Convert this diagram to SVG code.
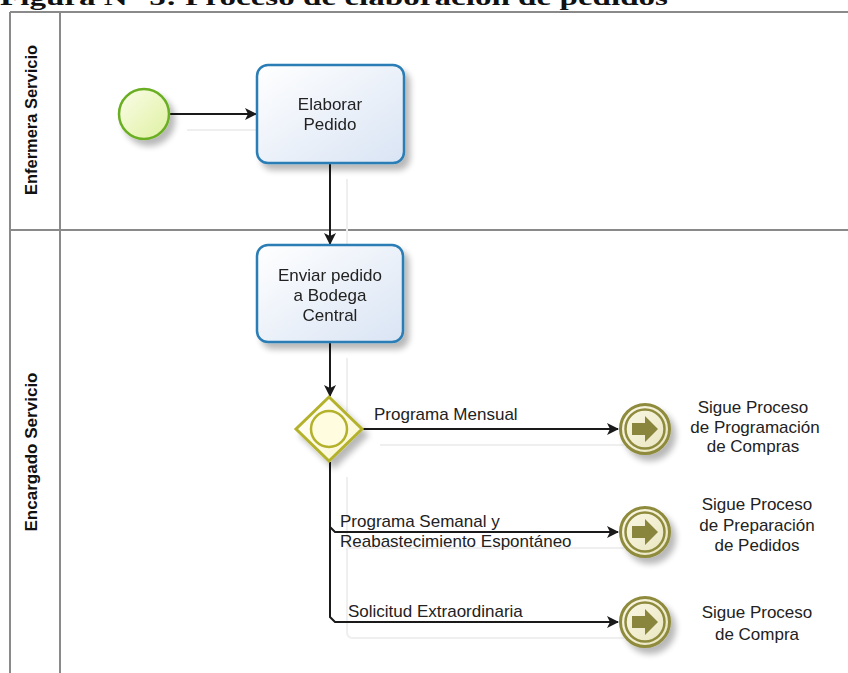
<svg xmlns="http://www.w3.org/2000/svg" width="848" height="673" viewBox="0 0 848 673">
  <defs>
    <style>
      .lane { stroke: #8a8a8a; stroke-width: 2; fill: none; }
      .lane-label { font-family: "Liberation Sans", Arial, sans-serif; font-size: 17px; font-weight: bold; fill: #111; }
      .lbl { font-family: "Liberation Sans", Arial, sans-serif; font-size: 17px; fill: #222; }
      .task { fill: url(#taskFill); stroke: #2a7db5; stroke-width: 2.5; }
      .flow { fill: none; stroke: #1a1a1a; stroke-width: 2; }
      .ghost { fill: none; stroke: #efefef; stroke-width: 2; }
      .end-ring { fill: url(#endFill); stroke: #8f8b3e; stroke-width: 3; }
      .end-inner { fill: none; stroke: #8f8b3e; stroke-width: 2.5; }
      .end-icon { fill: #8a853c; }
    </style>
    <linearGradient id="taskFill" x1="0" y1="0" x2="1" y2="1">
      <stop offset="0" stop-color="#ffffff"/>
      <stop offset="1" stop-color="#d9e4f4"/>
    </linearGradient>
    <linearGradient id="startFill" x1="0" y1="0" x2="1" y2="1">
      <stop offset="0" stop-color="#fbfde9"/>
      <stop offset="1" stop-color="#def0a0"/>
    </linearGradient>
    <linearGradient id="gwFill" x1="0" y1="0" x2="1" y2="1">
      <stop offset="0" stop-color="#ffffff"/>
      <stop offset="1" stop-color="#fbf7cc"/>
    </linearGradient>
    <linearGradient id="endFill" x1="0" y1="0" x2="1" y2="1">
      <stop offset="0" stop-color="#fbf9e8"/>
      <stop offset="1" stop-color="#e8e4bd"/>
    </linearGradient>
    <filter id="shadow" x="-30%" y="-30%" width="170%" height="170%">
      <feGaussianBlur in="SourceAlpha" stdDeviation="3"/>
      <feOffset dx="5" dy="6" result="off"/>
      <feComponentTransfer><feFuncA type="linear" slope="0.28"/></feComponentTransfer>
      <feMerge><feMergeNode/><feMergeNode in="SourceGraphic"/></feMerge>
    </filter>
    <marker id="arrow" viewBox="0 0 12 12" refX="11" refY="6" markerWidth="12" markerHeight="12" markerUnits="userSpaceOnUse" orient="auto">
      <path d="M0,0 L12,6 L0,12 L3,6 Z" fill="#1a1a1a"/>
    </marker>
  </defs>

  <rect width="848" height="673" fill="#ffffff"/>

  <!-- figure caption, partly above the top edge -->
  <text x="0" y="5" font-family="'Liberation Serif', 'Times New Roman', serif" font-size="24" font-weight="bold" fill="#111" textLength="668" lengthAdjust="spacingAndGlyphs">Figura N° 5: Proceso de elaboración de pedidos</text>

  <!-- pool and lanes -->
  <g id="pool">
    <path class="lane" d="M10,12 H848 M10,12 V673 M60,12 V673 M10,230 H848"/>
    <text class="lane-label" transform="translate(37,120) rotate(-90)" text-anchor="middle" textLength="150" lengthAdjust="spacingAndGlyphs">Enfermera Servicio</text>
    <text class="lane-label" transform="translate(37,452) rotate(-90)" text-anchor="middle" textLength="159" lengthAdjust="spacingAndGlyphs">Encargado Servicio</text>
  </g>

  <!-- connectors -->
  <g id="connectors">
    <!-- faint connector shadows -->
    <path class="ghost" d="M187,130 H272 M347,179 V260 M347,358 V412 M380,445 H634 M347,477 V544 Q347,548 352,548 H634 M347,548 V632 Q347,638 353,638 H634"/>
    <path class="flow" marker-end="url(#arrow)" d="M170,114 H256"/>
    <path class="flow" marker-end="url(#arrow)" d="M330,163 V244"/>
    <path class="flow" marker-end="url(#arrow)" d="M330,342 V396"/>
    <path class="flow" marker-end="url(#arrow)" d="M363,429 H618"/>
    <path class="flow" marker-end="url(#arrow)" d="M330,462 V527 L335,532 H618"/>
    <path class="flow" marker-end="url(#arrow)" d="M330,462 V617 L335,622 H618"/>
    <text class="lbl" x="374" y="420">Programa Mensual</text>
    <text class="lbl" x="340" y="527">Programa Semanal y</text>
    <text class="lbl" x="340" y="547">Reabastecimiento Espontáneo</text>
    <text class="lbl" x="348" y="617">Solicitud Extraordinaria</text>
  </g>

  <g id="start" filter="url(#shadow)">
    <circle cx="144" cy="114" r="25" fill="url(#startFill)" stroke="#6aae22" stroke-width="2.5"/>
  </g>

  <g id="elaborar-pedido" filter="url(#shadow)">
    <rect class="task" x="257" y="65" width="147" height="98" rx="11"/>
    <text class="lbl" text-anchor="middle" x="330" y="110">Elaborar</text>
    <text class="lbl" text-anchor="middle" x="330" y="130">Pedido</text>
  </g>

  <g id="enviar-pedido" filter="url(#shadow)">
    <rect class="task" x="257" y="245" width="146" height="97" rx="11"/>
    <text class="lbl" text-anchor="middle" x="330" y="281">Enviar pedido</text>
    <text class="lbl" text-anchor="middle" x="330" y="301">a Bodega</text>
    <text class="lbl" text-anchor="middle" x="330" y="321">Central</text>
  </g>

  <g id="gateway" filter="url(#shadow)">
    <path d="M329,397 L362,429 L329,461 L296,429 Z" fill="url(#gwFill)" stroke="#b4b12c" stroke-width="3" stroke-linejoin="miter"/>
    <circle cx="329" cy="429" r="18" fill="#fffce0" stroke="#b4b12c" stroke-width="2.5"/>
  </g>

  <g id="fin-programacion">
    <g filter="url(#shadow)">
      <circle class="end-ring" cx="645" cy="429" r="24.5"/>
      <circle class="end-inner" cx="645" cy="429" r="19.5"/>
      <path class="end-icon" d="M632,423 H645 V416 L658,429 L645,442 V435 H632 Z"/>
    </g>
    <text class="lbl" text-anchor="middle" x="753" y="413">Sigue Proceso</text>
    <text class="lbl" text-anchor="middle" x="755" y="433">de Programación</text>
    <text class="lbl" text-anchor="middle" x="753" y="452">de Compras</text>
  </g>

  <g id="fin-preparacion">
    <g filter="url(#shadow)">
      <circle class="end-ring" cx="645" cy="532" r="24.5"/>
      <circle class="end-inner" cx="645" cy="532" r="19.5"/>
      <path class="end-icon" d="M632,526 H645 V519 L658,532 L645,545 V538 H632 Z"/>
    </g>
    <text class="lbl" text-anchor="middle" x="757" y="510">Sigue Proceso</text>
    <text class="lbl" text-anchor="middle" x="757" y="531">de Preparación</text>
    <text class="lbl" text-anchor="middle" x="757" y="551">de Pedidos</text>
  </g>

  <g id="fin-compra">
    <g filter="url(#shadow)">
      <circle class="end-ring" cx="645" cy="622" r="24.5"/>
      <circle class="end-inner" cx="645" cy="622" r="19.5"/>
      <path class="end-icon" d="M632,616 H645 V609 L658,622 L645,635 V628 H632 Z"/>
    </g>
    <text class="lbl" text-anchor="middle" x="757" y="618">Sigue Proceso</text>
    <text class="lbl" text-anchor="middle" x="757" y="640">de Compra</text>
  </g>
</svg>
